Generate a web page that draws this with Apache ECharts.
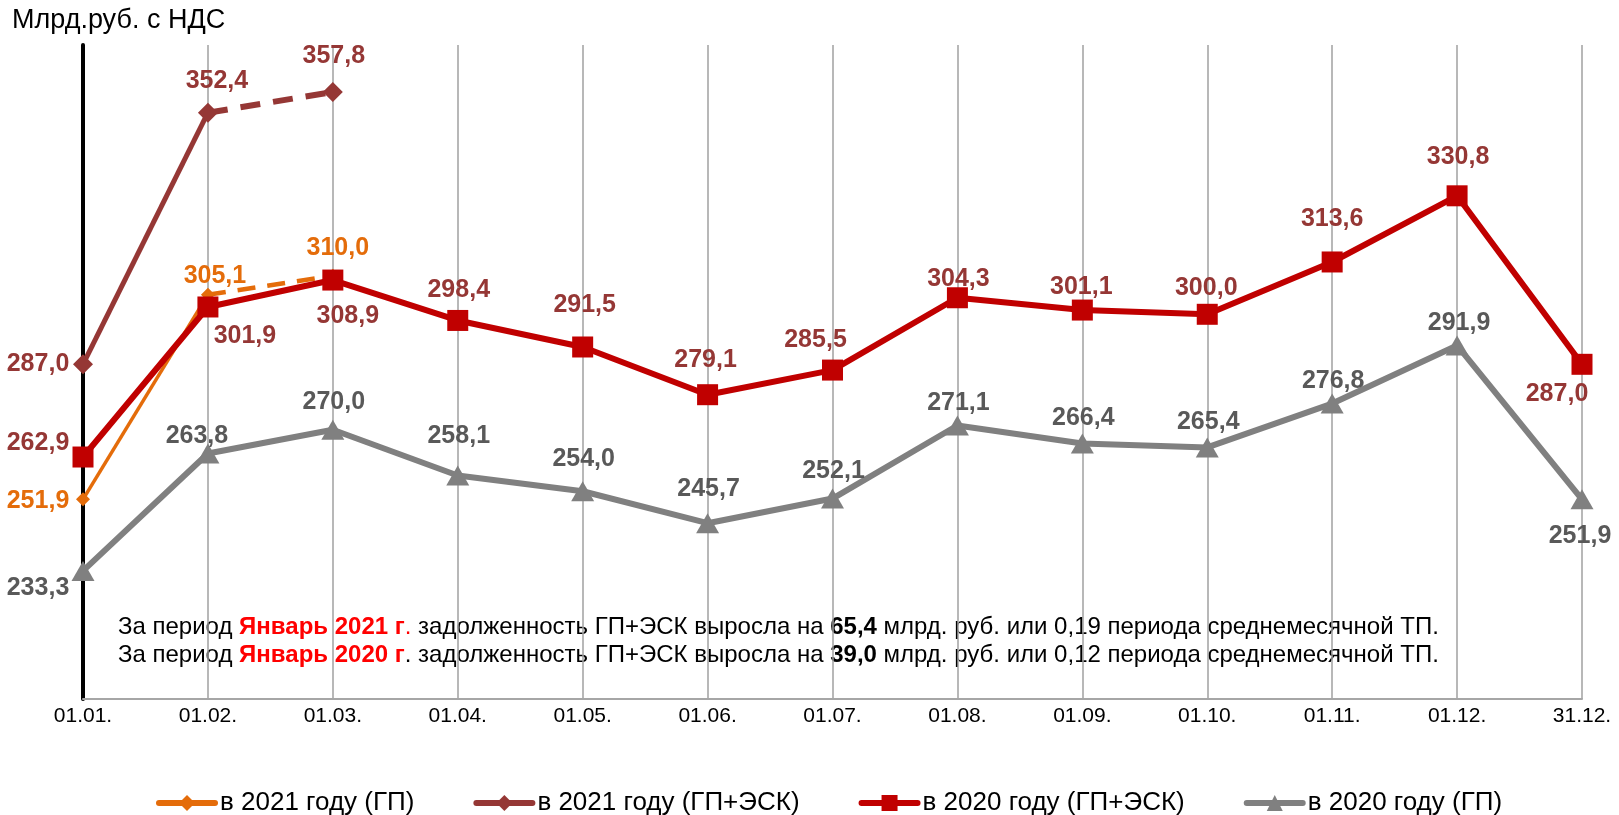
<!DOCTYPE html>
<html><head><meta charset="utf-8">
<script src="https://cdn.jsdelivr.net/npm/echarts@6/dist/echarts.min.js"></script>
<style>html,body{margin:0;padding:0;background:#fff}#c{width:1619px;height:815px}</style>
</head><body><div id="c"></div>
<script>
const categories = ['01.01.','01.02.','01.03.','01.04.','01.05.','01.06.','01.07.','01.08.','01.09.','01.10.','01.11.','01.12.','31.12.'];
const gp2021 = [251.9, 305.1, 310.0];
const gpesk2021 = [287.0, 352.4, 357.8];
const gpesk2020 = [262.9, 301.9, 308.9, 298.4, 291.5, 279.1, 285.5, 304.3, 301.1, 300.0, 313.6, 330.8, 287.0];
const gp2020 = [233.3, 263.8, 270.0, 258.1, 254.0, 245.7, 252.1, 271.1, 266.4, 265.4, 276.8, 291.9, 251.9];
const seriesNames = ['в 2021 году (ГП)', 'в 2021 году (ГП+ЭСК)', 'в 2020 году (ГП+ЭСК)', 'в 2020 году (ГП)'];

// label offsets (label centre relative to marker centre)
const offOrange = [[-45,2],[7,-19],[5,-28]];
const offDark = [[-45,0],[9,-32],[1,-36]];
const offRed = [[-45,-14],[37,29],[15,36],[1,-30],[2,-42],[-2,-35],[-17,-30],[1,-19],[-1,-23],[-1,-26],[0,-43],[1,-39],[-25,30]];
const offGray = [[-45,17],[-11,-17],[1,-28],[1,-39],[1,-32],[1,-34],[1,-27],[1,-22],[1,-25],[1,-25],[1,-22],[2,-22],[-2,37]];

const FONT = '"Liberation Sans", Arial, sans-serif';
const fmt = v => v.toFixed(1).replace('.', ',');

function items(vals, offs, showIdx, hideSymIdx) {
  return vals.map((v, i) => {
    if (v === null) return '-';
    const it = { value: v, label: { show: showIdx.includes(i), offset: offs[i] } };
    if (hideSymIdx && hideSymIdx.includes(i)) it.symbolSize = 0;
    return it;
  });
}
function lbl(color) {
  return { show: true, position: 'inside', color: color, fontFamily: FONT, fontWeight: 'bold', fontSize: 25,
           formatter: p => fmt(p.value) };
}
const all = n => Array.from({length: n}, (_, i) => i);

const orangeSolid = gp2021.map((v, i) => i <= 1 ? v : null);
const orangeDash = gp2021.map((v, i) => i >= 1 ? v : null);
const darkSolid = gpesk2021.map((v, i) => i <= 1 ? v : null);
const darkDash = gpesk2021.map((v, i) => i >= 1 ? v : null);

const chart = echarts.init(document.getElementById('c'), null, { renderer: 'canvas' });
const rich = {
  a: { fontSize: 24, fontFamily: FONT, fill: '#000' },
  r: { fontSize: 24, fontFamily: FONT, fontWeight: 'bold', fill: '#FF0000' },
  rn: { fontSize: 24, fontFamily: FONT, fill: '#FF0000' },
  b: { fontSize: 24, fontFamily: FONT, fontWeight: 'bold', fill: '#000' }
};
chart.setOption({
  animation: false,
  backgroundColor: '#fff',
  textStyle: { fontFamily: FONT },
  title: { text: 'Млрд.руб. с НДС', left: 12, top: 7, padding: 0, textStyle: { fontFamily: FONT, fontWeight: 'normal', fontSize: 27, color: '#000' } },
  grid: { left: 83, right: 37, top: 45, bottom: 116, containLabel: false },
  legend: {
    data: seriesNames, left: 151, top: 785, itemWidth: 56, itemHeight: 20, itemGap: 59,
    lineStyle: { width: 6, cap: 'round' },
    textStyle: { fontFamily: FONT, fontSize: 26, color: '#000' }
  },
  xAxis: {
    type: 'category', data: categories, boundaryGap: false,
    axisLine: { lineStyle: { color: '#A6A6A6', width: 2 } },
    axisTick: { show: false },
    axisLabel: { color: '#000', fontSize: 21, fontFamily: FONT, margin: 7, interval: 0 },
    splitLine: { show: true, interval: 0, lineStyle: { color: '#A0A0A0', width: 1.5 } }
  },
  yAxis: {
    type: 'value', min: 200, max: 370,
    axisLine: { show: true, lineStyle: { color: '#000', width: 4 } },
    axisTick: { show: false }, axisLabel: { show: false }, splitLine: { show: false }
  },
  graphic: [
    { type: 'text', left: 118, top: 615, style: {
      text: '{a|За период }{r|Январь 2021 г}{rn|.}{a| задолженность ГП+ЭСК выросла на }{b|65,4}{a| млрд. руб. или 0,19 периода среднемесячной ТП.}',
      rich: rich } },
    { type: 'text', left: 118, top: 643, style: {
      text: '{a|За период }{r|Январь 2020 г}{a|. задолженность ГП+ЭСК выросла на }{b|39,0}{a| млрд. руб. или 0,12 периода среднемесячной ТП.}',
      rich: rich } }
  ],
  series: [
    { name: seriesNames[0], type: 'line', data: items(orangeSolid, offOrange, [0, 1]),
      color: '#E46C0A', lineStyle: { width: 3.5, color: '#E46C0A' }, symbol: 'diamond', symbolSize: 14,
      itemStyle: { color: '#E46C0A' }, label: lbl('#E46C0A'), z: 2 },
    { name: seriesNames[0], type: 'line', data: items(orangeDash, offOrange, [2], [1]),
      color: '#E46C0A', lineStyle: { width: 4.5, color: '#E46C0A', type: [18, 12] }, symbol: 'diamond', symbolSize: 14,
      itemStyle: { color: '#E46C0A' }, label: lbl('#E46C0A'), z: 2 },
    { name: seriesNames[1], type: 'line', data: items(darkSolid, offDark, [0, 1]),
      color: '#953735', lineStyle: { width: 5, color: '#953735' }, symbol: 'diamond', symbolSize: 20,
      itemStyle: { color: '#953735' }, label: lbl('#953735'), z: 3 },
    { name: seriesNames[1], type: 'line', data: items(darkDash, offDark, [2], [1]),
      color: '#953735', lineStyle: { width: 6, color: '#953735', type: [20, 13] }, symbol: 'diamond', symbolSize: 20,
      itemStyle: { color: '#953735' }, label: lbl('#953735'), z: 3 },
    { name: seriesNames[2], type: 'line', data: items(gpesk2020, offRed, all(gpesk2020.length)),
      color: '#C00000', lineStyle: { width: 6, color: '#C00000' }, symbol: 'rect', symbolSize: 21,
      itemStyle: { color: '#C00000' }, label: lbl('#953735'), z: 4 },
    { name: seriesNames[3], type: 'line', data: items(gp2020, offGray, all(gp2020.length)),
      color: '#808080', lineStyle: { width: 6, color: '#808080' }, symbol: 'triangle', symbolSize: [23, 20],
      itemStyle: { color: '#808080' }, label: lbl('#595959'), z: 4 }
  ]
});
</script></body></html>
